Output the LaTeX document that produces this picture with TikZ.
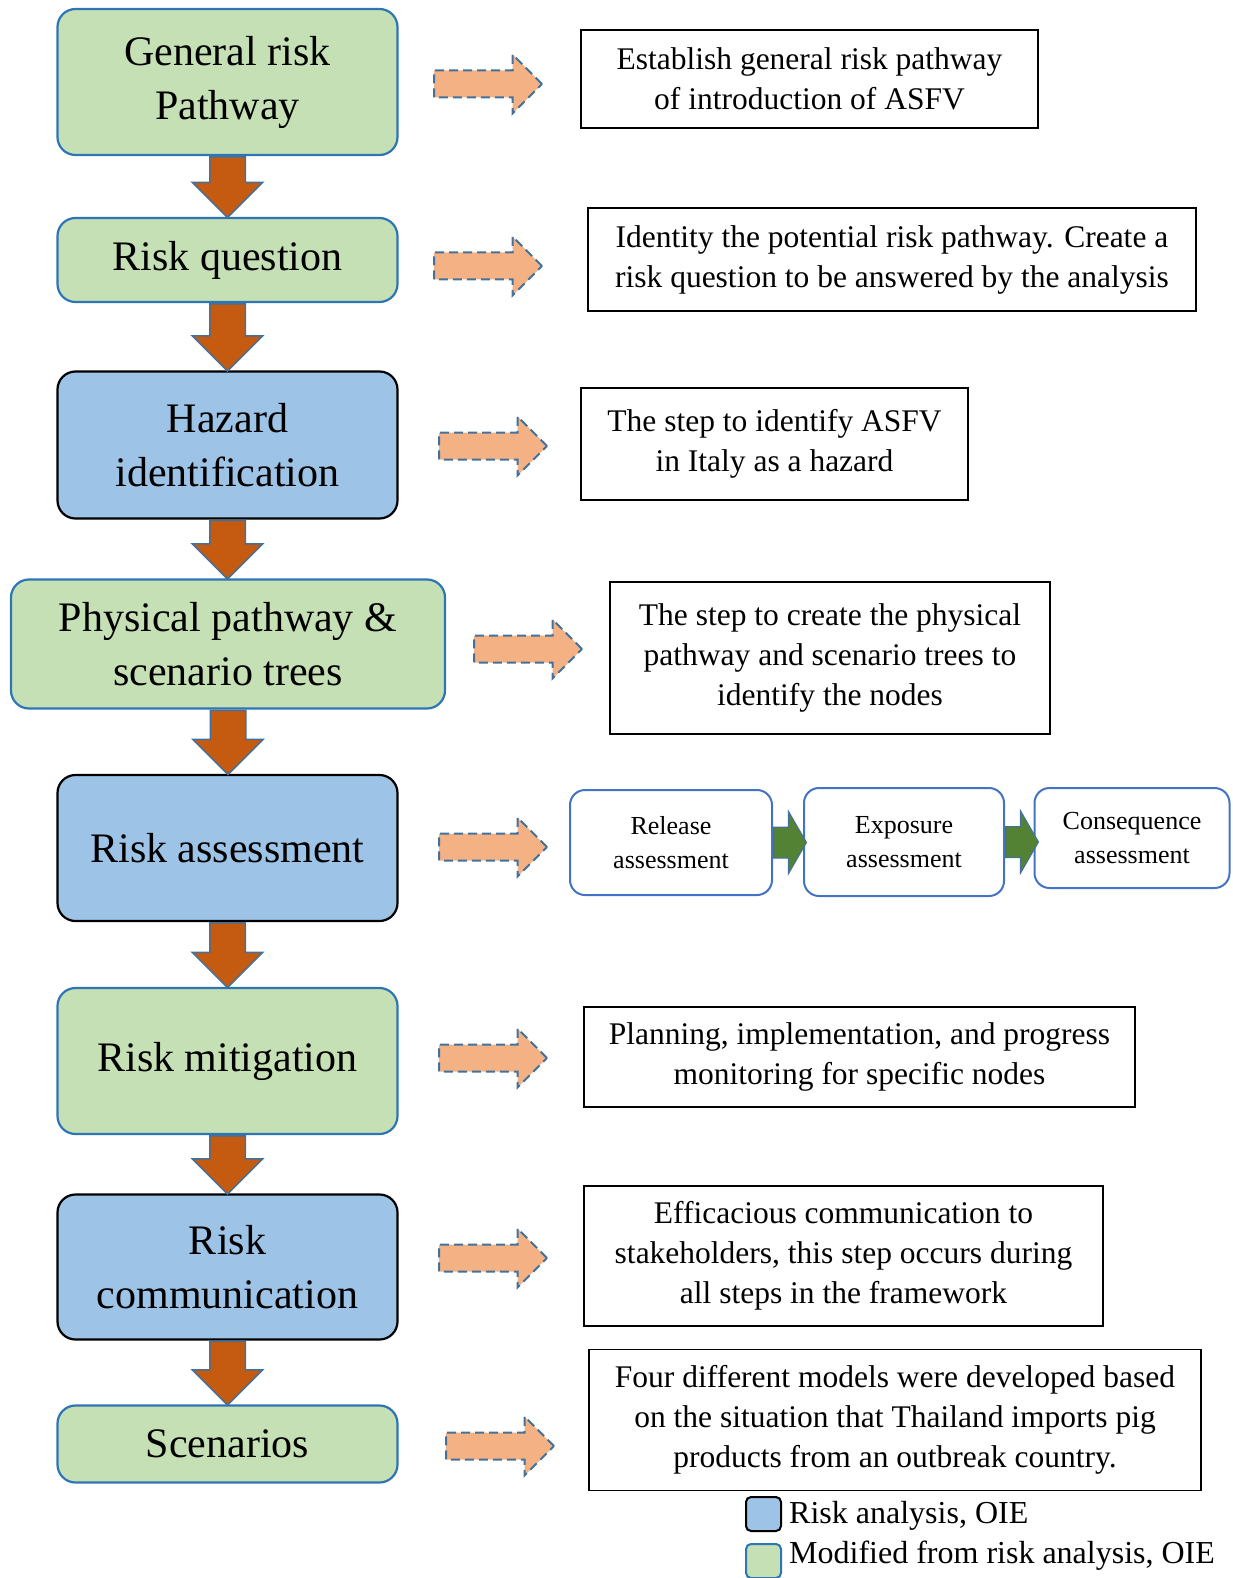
\documentclass[tikz,border=0pt]{standalone}
\usepackage{fontspec}
\setmainfont{Liberation Serif}
\usepackage{tikz}
\usetikzlibrary{shapes.arrows,calc}
\definecolor{modgreen}{HTML}{C5E0B4}
\definecolor{oieblue}{HTML}{9DC3E6}
\definecolor{edgeblue}{HTML}{2E75B6}
\definecolor{arrowrim}{HTML}{41719C}
\definecolor{rust}{HTML}{C55A11}
\definecolor{peach}{HTML}{F4B183}
\definecolor{leaf}{HTML}{548235}
\definecolor{subrim}{HTML}{4472C4}
\tikzset{
	modbox/.style={draw=edgeblue, fill=modgreen, line width=2.2pt, rounded corners=18pt,
		minimum width=340pt, align=center, font=\fontsize{42}{54}\selectfont},
	oiebox/.style={modbox, draw=black, fill=oieblue},
	descbox/.style={draw=black, line width=1.4pt, align=center, inner sep=0pt,
		font=\fontsize{31.5}{40}\selectfont},
	subbox/.style={draw=subrim, line width=2pt, rounded corners=15pt, align=center,
		inner sep=0pt, font=\fontsize{26}{34}\selectfont},
	downarr/.style={single arrow, draw=arrowrim, fill=rust, line width=1.5pt, inner xsep=0pt,
		inner ysep=17pt, single arrow head extend=17.5pt, rotate=-90, anchor=tail},
	sidearr/.style={single arrow, draw=arrowrim, fill=peach, line width=2pt, dash pattern=on 9pt off 5pt,
		inner xsep=0pt, inner ysep=12.5pt, single arrow head extend=16pt, minimum height=108pt, anchor=tail},
	flowarr/.style={single arrow, draw=arrowrim, fill=leaf, line width=1pt, inner xsep=0pt,
		inner ysep=15pt, single arrow head extend=16pt, single arrow tip angle=120,
		minimum height=33pt, anchor=tail},
	keybox/.style={draw, line width=2pt, rounded corners=5pt, minimum width=35pt, minimum height=34pt}
}

\begin{document}
\begin{tikzpicture}[x=1pt, y=-1pt]
	\useasboundingbox (0,0) rectangle (1232,1578);

	% Define nodes
	\node[modbox, minimum height=146pt] (gen) at (227.5,82)  {General risk\\Pathway};
	\node[modbox, minimum height=84pt]  (rq)  at (227.5,260) {Risk question};
	\node[oiebox, minimum height=147pt] (haz) at (227.5,445) {Hazard\\identification};
	\node[modbox, minimum height=129pt, minimum width=434pt] (phy) at (228,644) {Physical pathway \&\\scenario trees};
	\node[oiebox, minimum height=146pt] (ra)  at (227.5,848) {Risk assessment};
	\node[modbox, minimum height=146pt] (rm)  at (227.5,1061) {Risk mitigation};
	\node[oiebox, minimum height=145pt] (rc)  at (227.5,1267) {Risk\\communication};
	\node[modbox, minimum height=77pt]  (sc)  at (227.5,1444) {Scenarios};

	\node[descbox, minimum width=457pt, minimum height=98pt]  (dgen) at (809.5,79)  {Establish general risk pathway\\of introduction of ASFV};
	\node[descbox, minimum width=608pt, minimum height=103pt] (drq)  at (892,259.5) {Identity the potential risk pathway. Create a\\risk question to be answered by the analysis};
	\node[descbox, minimum width=387pt, minimum height=112pt] (dhaz) at (774.5,444) {The step to identify ASFV\\in Italy as a hazard};
	\node[descbox, minimum width=440pt, minimum height=152pt] (dphy) at (830,658)   {The step to create the physical\\pathway and scenario trees to\\identify the nodes};
	\node[subbox, minimum width=202pt, minimum height=105pt] (rel) at (671,842.5) {Release\\assessment};
	\node[subbox, minimum width=200pt, minimum height=108pt] (exp) at (904,842)   {Exposure\\assessment};
	\node[subbox, minimum width=195pt, minimum height=100pt] (con) at (1132,838)  {Consequence\\assessment};
	\node[descbox, minimum width=551pt, minimum height=100pt] (drm) at (859.5,1057) {Planning, implementation, and progress\\monitoring for specific nodes};
	\node[descbox, minimum width=519pt, minimum height=140pt] (drc) at (843.5,1256) {Efficacious communication to\\stakeholders, this step occurs during\\all steps in the framework};
	\node[descbox, minimum width=612pt, minimum height=141pt] (dsc) at (895,1420)  {Four different models were developed based\\on the situation that Thailand imports pig\\products from an outbreak country.};

	% Connect the nodes
	\foreach \a/\b in {gen/rq, rq/haz, haz/phy, phy/ra, ra/rm, rm/rc, rc/sc}
		\path let \p1=(\a.south), \p2=(\b.north) in
			node[downarr, minimum height={\y1-\y2}] (\a-\b) at (\p1) {};

	\foreach \n/\x/\y in {gen/433/84, rq/433/266, haz/438/446, phy/473/649, ra/438/847, rm/438/1058, rc/438/1258, sc/445/1446}
		\node[sidearr] (to-\n) at (\x,\y) {};

	\node[flowarr] (rel-exp) at (rel.east) {};
	\node[flowarr] (exp-con) at (exp.east) {};

	% Legend
	\node[keybox, fill=oieblue] (koie) at (763.5,1514) {};
	\node[keybox, draw=edgeblue, fill=modgreen] (kmod) at (763.5,1561) {};
	\node[anchor=west, inner sep=0pt, font=\fontsize{32}{40}\selectfont] at (789,1516) {Risk analysis, OIE};
	\node[anchor=west, inner sep=0pt, font=\fontsize{32}{40}\selectfont] at (789,1556) {Modified from risk analysis, OIE};
\end{tikzpicture}
\end{document}
